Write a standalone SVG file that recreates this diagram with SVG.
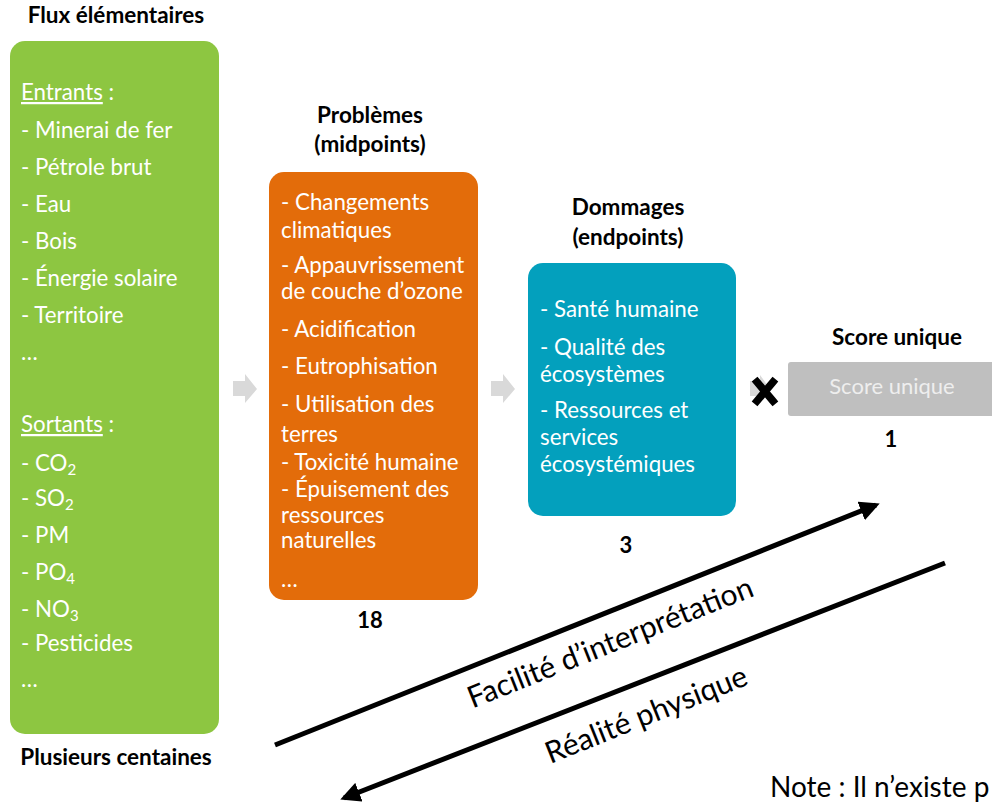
<svg xmlns="http://www.w3.org/2000/svg" width="992" height="806" viewBox="0 0 992 806">
  <defs>
    <style>
      text { font-family: Lato, "Open Sans", sans-serif; }
      .title { font-size: 22.5px; font-weight: bold; fill: #000; text-anchor: middle; }
      .item { font-size: 22.3px; fill: #fff; }
      .count { font-size: 22px; font-weight: bold; fill: #000; text-anchor: middle; }
      .gray-arrow { fill: #d9d9d9; }
      .axis { stroke: #000; stroke-width: 5; fill: none; }
      .axis-label { font-size: 30px; fill: #000; text-anchor: middle; }
      .sub { font-size: 15px; }
    </style>
    <marker id="head" viewBox="0 0 10 10" refX="8" refY="5" markerWidth="4" markerHeight="4" orient="auto" markerUnits="strokeWidth">
      <path d="M0,0 L10,5 L0,10 Z" fill="#000"/>
    </marker>
  </defs>

  <rect width="992" height="806" fill="#fff"/>

  <!-- Elementary flows -->
  <g id="flux">
    <text class="title" x="116" y="23">Flux élémentaires</text>
    <rect x="10" y="41" width="209" height="693" rx="15" fill="#8dc641"/>
    <text class="item" x="21" y="100"><tspan text-decoration="underline">Entrants</tspan> :</text>
    <text class="item" x="21" y="138">- Minerai de fer</text>
    <text class="item" x="21" y="175">- Pétrole brut</text>
    <text class="item" x="21" y="212">- Eau</text>
    <text class="item" x="21" y="249">- Bois</text>
    <text class="item" x="21" y="286">- Énergie solaire</text>
    <text class="item" x="21" y="323">- Territoire</text>
    <text class="item" x="21" y="360">…</text>
    <text class="item" x="21" y="432"><tspan text-decoration="underline">Sortants</tspan> :</text>
    <text class="item" x="21" y="471">- CO<tspan class="sub" dy="4">2</tspan></text>
    <text class="item" x="21" y="506">- SO<tspan class="sub" dy="4">2</tspan></text>
    <text class="item" x="21" y="543">- PM</text>
    <text class="item" x="21" y="580">- PO<tspan class="sub" dy="4">4</tspan></text>
    <text class="item" x="21" y="617">- NO<tspan class="sub" dy="4">3</tspan></text>
    <text class="item" x="21" y="651">- Pesticides</text>
    <text class="item" x="21" y="687">…</text>
    <text class="title" x="116" y="765">Plusieurs centaines</text>
  </g>

  <!-- Midpoints -->
  <g id="midpoints">
    <text class="title" x="370" y="123">Problèmes</text>
    <text class="title" x="370" y="152">(midpoints)</text>
    <rect x="269" y="172" width="209" height="428" rx="15" fill="#e36c0a"/>
    <text class="item" x="281" y="210">- Changements</text>
    <text class="item" x="281" y="238">climatiques</text>
    <text class="item" x="281" y="273">- Appauvrissement</text>
    <text class="item" x="281" y="299">de couche d’ozone</text>
    <text class="item" x="281" y="337">- Acidification</text>
    <text class="item" x="281" y="374">- Eutrophisation</text>
    <text class="item" x="281" y="412">- Utilisation des</text>
    <text class="item" x="281" y="442">terres</text>
    <text class="item" x="281" y="470">- Toxicité humaine</text>
    <text class="item" x="281" y="497">- Épuisement des</text>
    <text class="item" x="281" y="523">ressources</text>
    <text class="item" x="281" y="548">naturelles</text>
    <text class="item" x="281" y="587">…</text>
    <text class="count" x="370" y="628">18</text>
  </g>

  <!-- Endpoints -->
  <g id="endpoints">
    <text class="title" x="628" y="215">Dommages</text>
    <text class="title" x="628" y="245">(endpoints)</text>
    <rect x="528" y="263" width="208" height="253" rx="15" fill="#03a0bd"/>
    <text class="item" x="540" y="317">- Santé humaine</text>
    <text class="item" x="540" y="355">- Qualité des</text>
    <text class="item" x="540" y="382">écosystèmes</text>
    <text class="item" x="540" y="418">- Ressources et</text>
    <text class="item" x="540" y="445">services</text>
    <text class="item" x="540" y="472">écosystémiques</text>
    <text class="count" x="626" y="553">3</text>
  </g>

  <!-- Single score -->
  <g id="score">
    <text class="title" x="897" y="345">Score unique</text>
    <rect x="788" y="362" width="220" height="54" rx="3" fill="#bfbfbf"/>
    <text x="892" y="394" font-size="22" fill="#eeeeee" text-anchor="middle">Score unique</text>
    <text class="count" x="891" y="447">1</text>
  </g>

  <!-- Connectors -->
  <g id="connectors">
    <path class="gray-arrow" d="M233,381 H245 V374 L257,389 L245,403 V396 H233 Z"/>
    <path class="gray-arrow" d="M491,381 H503 V374 L515,389 L503,403 V396 H491 Z"/>
    <path class="gray-arrow" d="M750,381 H760 V375 L770,389 L760,402 V396 H750 Z"/>
    <path d="M757,382 L773,401 M773,382 L757,401" stroke="#000" stroke-width="7.5" stroke-linecap="square"/>
    <line class="axis" x1="275" y1="745" x2="876" y2="505" marker-end="url(#head)"/>
    <line class="axis" x1="945" y1="563" x2="344" y2="798" marker-end="url(#head)"/>
    <text class="axis-label" transform="translate(614,652) rotate(-21.8)">Facilité d’interprétation</text>
    <text class="axis-label" transform="translate(650,724) rotate(-21.8)">Réalité physique</text>
  </g>

  <text x="770" y="797" font-size="28" fill="#000">Note : Il n’existe p</text>
</svg>
